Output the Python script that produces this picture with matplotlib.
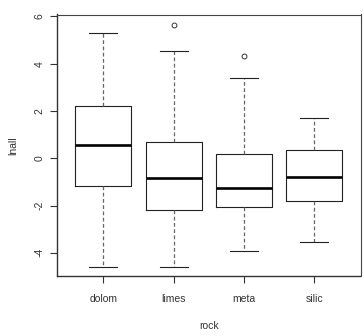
import matplotlib
matplotlib.use("Agg")
import matplotlib.pyplot as plt

plt.rcParams['font.family'] = ['Liberation Sans', 'DejaVu Sans']

rocks = ["dolom", "limes", "meta", "silic"]
whisker_low = [-4.62, -4.61, -3.93, -3.54]
q1 = [-1.18, -2.20, -2.06, -1.79]
medians = [0.56, -0.82, -1.24, -0.79]
q3 = [2.23, 0.69, 0.17, 0.34]
whisker_high = [5.31, 4.54, 3.41, 1.72]
outliers = [[], [5.65], [4.33], []]

stats = []
for i, name in enumerate(rocks):
    stats.append({
        "label": name,
        "whislo": whisker_low[i],
        "q1": q1[i],
        "med": medians[i],
        "q3": q3[i],
        "whishi": whisker_high[i],
        "fliers": outliers[i],
    })

fig = plt.figure(figsize=(3.64, 3.36), dpi=100)
ax = fig.add_axes([57 / 364, 60 / 336, 303.5 / 364, 261.5 / 336])

ax.bxp(stats, positions=[1, 2, 3, 4], widths=0.8, showfliers=True,
       boxprops=dict(color="#222222", linewidth=0.8),
       medianprops=dict(color="black", linewidth=1.9),
       whiskerprops=dict(color="#666666", linewidth=0.9, linestyle=(0, (3, 2))),
       capprops=dict(color="#222222", linewidth=0.8),
       capwidths=0.4,
       flierprops=dict(marker="o", markersize=3.5, markerfacecolor="none",
                       markeredgecolor="#333333", markeredgewidth=0.7))

ax.set_xlim(0.34, 4.66)
ax.set_ylim(-4.98, 6.08)
ax.set_yticks([-4, -2, 0, 2, 4, 6])
ax.set_yticklabels(["-4", "-2", "0", "2", "4", "6"], rotation=90, va="center")
ax.tick_params(axis="both", direction="out", length=5, width=0.8,
               labelsize=7.5, colors="#333333", pad=4)
ax.tick_params(axis="x", pad=8)

for side in ["top", "right"]:
    ax.spines[side].set_linewidth(0.8)
    ax.spines[side].set_color("#444444")
for side in ["left", "bottom"]:
    ax.spines[side].set_linewidth(1.0)
    ax.spines[side].set_color("#333333")

ax.set_xlabel("rock", fontsize=7.5, color="#333333", labelpad=12)
ax.set_ylabel("lnall", fontsize=7.5, color="#333333", labelpad=12)

fig.savefig("out.png", dpi=100)
